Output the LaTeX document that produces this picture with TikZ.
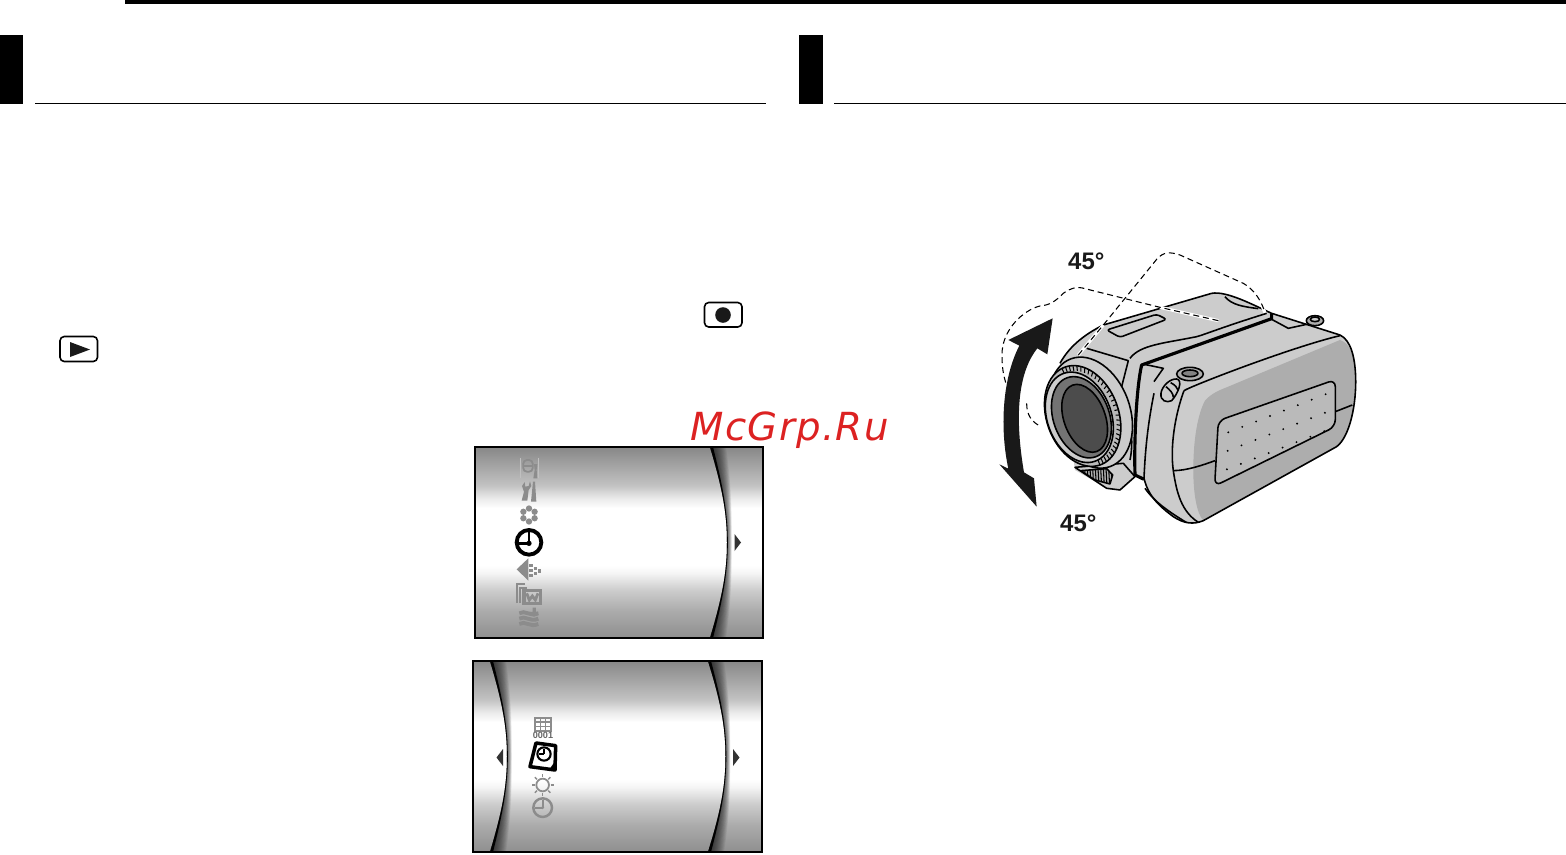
\documentclass[tikz,border=0pt]{standalone}
\usepackage{xcolor}
\usepackage{fontspec}
\usetikzlibrary{calc}
\newfontfamily\labelfont{Liberation Sans}
\newfontfamily\waterfont[LetterSpace=3.5]{DejaVu Sans}

\definecolor{camlight}{gray}{0.80}
\definecolor{camface}{gray}{0.68}
\definecolor{campanel}{gray}{0.73}
\definecolor{camglass}{gray}{0.30}
\definecolor{iconfade}{gray}{0.55}
\definecolor{waterred}{HTML}{DC2222}

% The band of a menu screen, stops are inside 25bp..75bp
\pgfdeclareverticalshading{menuband}{100bp}{%
  color(0bp)=(black!44); color(25bp)=(black!44); color(32bp)=(black!33);
  color(37.5bp)=(black!20); color(42bp)=(black!4); color(44bp)=(white);
  color(59bp)=(white); color(61.5bp)=(black!8); color(65bp)=(black!24);
  color(75bp)=(black!47); color(100bp)=(black!47)}

% Curved edge in a menu screen: x at the ends, x at the middle, y top, y bottom
\newcommand{\menucurve}[4]{%
  \foreach \d in {1,2,...,16}{%
    \fill [black,opacity=0.06] (#1,#3) .. controls ({#2-5},{#3+40}) and (#2,{#3+65}) .. (#2,{(#3+#4)/2})
      .. controls (#2,{#4-65}) and ({#2-5},{#4-40}) .. (#1,#4) -- ({#1+\d},#4)
      .. controls ({#2-5+0.6*\d},{#4-40}) and ({#2+0.3*\d},{#4-65}) .. ({#2+0.3*\d},{(#3+#4)/2})
      .. controls ({#2+0.3*\d},{#3+65}) and ({#2-5+0.6*\d},{#3+40}) .. ({#1+\d},#3) -- cycle;}%
  \fill [black] (#1,#3) .. controls ({#2-5},{#3+40}) and (#2,{#3+65}) .. (#2,{(#3+#4)/2})
      .. controls (#2,{#4-65}) and ({#2-5},{#4-40}) .. (#1,#4) -- ({#1+3},#4)
      .. controls ({#2-4},{#4-40}) and ({#2+0.8},{#4-65}) .. ({#2+0.8},{(#3+#4)/2})
      .. controls ({#2+0.8},{#3+65}) and ({#2-4},{#3+40}) .. ({#1+3},#3) -- cycle;}

\tikzset{
  darkrule/.style={fill=black},
  camline/.style={draw=black,line width=0.45pt,line join=round},
  camheavy/.style={draw=black,line width=0.9pt,line join=round},
  dashline/.style={draw=black,line width=0.3pt,dash pattern=on 1.7pt off 1.1pt},
  halo/.style={draw=white,line width=0.9pt},
  anglelabel/.style={font=\labelfont\fontsize{6.8}{8}\selectfont\bfseries,inner sep=0pt,text=black!90},
  softline/.style={draw=iconfade,line width=0.5pt},
}

\begin{document}
\begin{tikzpicture}[x=0.01cm,y=-0.01cm]
  \useasboundingbox (0,0) rectangle (1566,854);
  {\footnotesize

  % Drawing the page rules and the black tabs
  \fill [darkrule] (125,0) rectangle (1566,4);
  \fill [darkrule] (0,35) rectangle (23,104);
  \fill [darkrule] (799,35) rectangle (823,104);
  \fill [darkrule] (35,102.8) rectangle (766,104);
  \fill [darkrule] (834,102.8) rectangle (1566,104);

  % Drawing the record button
  \draw [line width=0.45pt,rounded corners=1.2pt] (704.5,302.5) rectangle (742,327);
  \fill [black!90] (723,315) circle (7.8);

  % Drawing the play button
  \draw [line width=0.45pt,rounded corners=1.2pt] (60,336.5) rectangle (97.5,361.5);
  \fill [black!90] (70,342) -- (90,349.5) -- (70,357) -- cycle;

  % Drawing the first menu screen
  \begin{scope}
    \clip (475,447) rectangle (763,638);
    \shade [shading=menuband] (475,447) rectangle (763,638);
    \menucurve{710}{727}{447}{638}
  \end{scope}
  \draw [line width=0.6pt] (475,447) rectangle (763,638);
  \fill [black!80] (734.5,534) -- (741,542.5) -- (734.5,551) -- cycle;

  % Icons of the first menu screen
  \begin{scope}[shift={(470,440)},scale=0.3333]
    % frame with a wrench
    \draw [iconfade!55,line width=0.3pt] (152,55) -- (152,115) (205,55) -- (205,115);
    \draw [softline,rounded corners=1pt] (160,60) rectangle (188,95);
    \draw [softline] (160,78) -- (188,78);
    \fill [iconfade] (192,72) -- (202,72) -- (200,90) -- (202,115) -- (190,115) -- (194,90) -- cycle;
    % wrench and driver
    \fill [iconfade] (155,182) -- (172,182) -- (176,150) -- (184,138) -- (180,124) -- (176,138) -- (166,140) -- (164,126) -- (156,138) -- (162,155) -- cycle;
    \fill [iconfade] (189,125) -- (195,125) -- (199,185) -- (183,185) -- cycle;
    % flower
    \foreach \a in {30,90,...,330}
      \fill [iconfade] ($(177,225)+(\a:19.5)$) circle (9.5);
    % clock
    \draw [line width=1.1pt] (177,307) circle (37);
    \draw [line width=0.8pt] (177,307) -- (177,275) (177,310) -- (145,310);
    \fill (177,310) circle (8);
    % arrow with dots
    \fill [iconfade] (140,388) -- (175,355) -- (175,422) -- cycle;
    \foreach \x/\y in {178/372,178/387,178/402,191/380,191/395,204/388}
      \fill [iconfade] (\x,\y) rectangle ++(10,10);
    % stacked frames
    \draw [softline] (140,490) -- (140,432) -- (165,432) (150,490) -- (150,443) -- (172,443);
    \draw [softline,line width=1pt] (162,452) rectangle (212,490);
    \draw [softline,line width=0.8pt] (170,460) -- (178,480) -- (187,468) -- (196,480) -- (204,460);
    % waves and arrow
    \foreach \y in {520,536,552}
      \draw [softline,line width=1.1pt] (148,\y) .. controls (165,{\y-12}) and (180,{\y+12}) .. (205,\y);
    \fill [iconfade] (188,503) rectangle (198,516) (178,516) -- (206,516) -- (192,531) -- cycle;
  \end{scope}

  % Drawing the second menu screen
  \begin{scope}
    \clip (473,661) rectangle (762,852);
    \shade [shading=menuband] (473,661) rectangle (762,852);
    \menucurve{490}{507}{661}{852}
    \menucurve{708}{725.5}{661}{852}
  \end{scope}
  \draw [line width=0.6pt] (473,661) rectangle (762,852);
  \fill [black!80] (733,749) -- (739.5,757.5) -- (733,766) -- cycle;
  \fill [black!80] (503,749) -- (496.5,757.5) -- (503,766) -- cycle;

  % Icons of the second menu screen
  \begin{scope}[shift={(470,655)},scale=0.3333]
    % number grid
    \draw [softline] (195,188) rectangle (242,228);
    \foreach \x in {211,226}
      \draw [softline,line width=0.35pt] (\x,188) -- (\x,228);
    \foreach \y in {201,214}
      \draw [softline,line width=0.35pt] (195,\y) -- (242,\y);
    \node (numbertag) at (219,241) [inner sep=0pt,text=black!60,font=\labelfont\bfseries\fontsize{2.6}{3}\selectfont] {0001};
    % clock on a sheet
    \draw [line width=1pt,line join=round] (198,264) -- (257,272) -- (255,345) -- (180,335) -- cycle;
    \fill (256,318) -- (256,346) -- (238,343) -- cycle;
    \draw [line width=0.6pt] (222,297) circle (20);
    \draw [line width=0.5pt] (222,297) -- (222,283) (222,297) -- (208,297);
    % sun
    \draw [softline] (218,390) circle (19);
    \foreach \a in {0,45,...,315}
      \draw [softline,line width=0.4pt] ($(218,390)+(\a:24)$) -- ($(218,390)+(\a:33)$);
    % clock
    \draw [softline,line width=0.7pt] (218,458) circle (28);
    \draw [softline] (218,458) -- (218,435) (218,458) -- (195,458);
    \fill [iconfade] (218,458) circle (5);
  \end{scope}

  % Drawing the camera
  \begin{scope}[shift={(960,230)},scale=0.3333]
    % Body outline
    \fill [camlight] (300,400) .. controls (330,345) and (380,310) .. (430,285) -- (755,190)
      .. controls (800,182) and (880,225) .. (935,250) -- (1140,315)
      .. controls (1172,330) and (1185,380) .. (1187,440) .. controls (1190,520) and (1170,620) .. (1130,650)
      -- (730,872) .. controls (700,885) and (670,880) .. (640,860) .. controls (600,830) and (565,800) .. (552,745)
      -- (525,740) -- (480,780) -- (440,775) -- (345,720) -- cycle;
    % Darker face and its speaker panel
    \fill [camface] (735,512) .. controls (755,490) and (775,482) .. (800,472) -- (1140,330)
      .. controls (1172,340) and (1185,380) .. (1187,440) .. controls (1190,520) and (1170,620) .. (1130,650)
      -- (730,872) .. controls (710,850) and (700,790) .. (700,720) .. controls (700,620) and (715,550) .. (735,512) -- cycle;
    \draw [camline,fill=campanel,rounded corners=2pt] (775,572) -- (1126,449) -- (1126,590) -- (764,768) -- cycle;
    \foreach \i in {0,...,7}
      \foreach \j in {0,1,2}
        \fill ({805+41.7*\i-2*\j},{607-16.3*\i+55.5*\j}) circle (3.2);
    % Seams on the body
    \draw [camline] (300,400) .. controls (330,345) and (380,310) .. (430,285) -- (755,190)
      .. controls (800,182) and (880,225) .. (935,250) -- (1140,315)
      .. controls (1172,330) and (1185,380) .. (1187,440) .. controls (1190,520) and (1170,620) .. (1130,650)
      -- (730,872) .. controls (700,885) and (670,880) .. (640,860) .. controls (600,830) and (565,800) .. (552,745);
    \draw [camline] (672,482) .. controls (645,555) and (630,650) .. (640,722) .. controls (650,790) and (665,845) .. (715,877);
    \draw [camline] (672,482) .. controls (700,465) and (1000,350) .. (1140,317);
    \draw [camline] (640,722) .. controls (680,722) and (730,705) .. (765,692) (1126,545) -- (1177,525);
    \draw [camline] (555,775) .. controls (580,810) and (610,835) .. (680,878);
    \draw [camline] (548,402) -- (610,415) -- (582,455) (582,490) .. controls (560,600) and (555,680) .. (552,745);
    % Heavy edge of the folding screen
    \draw [camheavy] (525,735) .. controls (522,620) and (530,470) .. (545,405) -- (935,266) -- (935,250);
    \draw [camheavy] (525,735) -- (552,748);
    % Details of the top
    \draw [camline,rounded corners=0.8pt] (440,300) -- (590,253) -- (620,268) -- (480,322) -- cycle;
    \draw [camline] (510,385) .. controls (540,345) and (610,340) .. (700,322) .. controls (720,320) and (760,300) .. (920,250);
    \draw [camline] (380,355) -- (505,392) -- (485,470) .. controls (505,540) and (525,620) .. (510,690);
    \draw [camline] (795,200) .. controls (815,225) and (850,230) .. (895,236);
    \draw [camline] (935,268) -- (985,295) -- (1040,283);
    % Socket and dial on the side
    \draw [camline,fill=camface] (690,432) ellipse (40 and 20);
    \draw [camline,fill=camglass!70] (690,430) ellipse (24 and 10);
    \draw [camline,fill=camlight] (603,490) .. controls (605,470) and (630,445) .. (650,447)
      .. controls (670,450) and (655,490) .. (635,512) .. controls (620,520) and (600,512) .. (603,490) -- cycle;
    \draw [camline] (618,470) .. controls (630,480) and (640,490) .. (640,502) (632,458) .. controls (645,465) and (652,472) .. (655,482);
    % Lug at the back
    \draw [camline,fill=camface] (1065,272) ellipse (26 and 15);
    \draw [camline,fill=camlight] (1065,268) ellipse (14 and 7);
    % Thumb wheel under the lens
    \draw [camline,fill=camlight] (345,712) -- (440,775) -- (480,780) -- (525,740) -- (490,700) -- cycle;
    \begin{scope}
      \clip (362,722) -- (440,716) -- (458,735) -- (450,762) -- (405,750) -- cycle;
      \fill [camface] (362,710) rectangle (460,765);
      \foreach \x in {366,374,...,458}
        \draw [line width=0.3pt] (\x,712) -- ({\x+3},770);
    \end{scope}
    \draw [camline] (362,722) -- (440,716) -- (458,735) -- (450,762) -- (405,750) -- cycle;
    % Lens barrel, ring and glass
    \begin{scope}[shift={(392,548)},rotate=20]
      \draw [camline,fill=camlight] (0,0) ellipse (118 and 172);
    \end{scope}
    \begin{scope}[shift={(368,558)},rotate=20]
      \draw [camline,fill=campanel] (0,0) ellipse (108 and 156);
      \foreach \a in {-95,-89,...,95}
        \draw [line width=0.3pt] ({96*cos(\a)},{140*sin(\a)}) -- ({108*cos(\a)},{156*sin(\a)});
    \end{scope}
    \begin{scope}[shift={(358,562)},rotate=20]
      \draw [camline,fill=camlight] (0,0) ellipse (96 and 140);
      \draw [camline,fill=black!55] (6,2) ellipse (84 and 126);
    \end{scope}
    \begin{scope}[shift={(374,565)},rotate=20]
      \draw [camline,fill=camglass] (0,0) ellipse (62 and 106);
    \end{scope}

    % Drawing the tilt arrow
    \fill [black!90] (278,265) -- (262,373) -- (232,355) .. controls (180,420) and (160,540) .. (192,727)
      -- (222,745) -- (230,830) -- (118,703) -- (145,716) .. controls (120,600) and (125,450) .. (178,347)
      -- (145,330) -- cycle;

    % Drawing the dashed outlines of the tilted camera
    \draw [halo] (775,272) -- (600,232);
    \draw [halo] (355,375) -- (430,285);
    \draw [halo] (905,225) -- (915,248);
    \draw [dashline] (775,272) -- (600,232) -- (375,176) .. controls (350,168) and (330,175) .. (310,190)
      .. controls (285,215) and (270,225) .. (240,228) .. controls (190,240) and (125,300) .. (126,375)
      .. controls (126,410) and (130,440) .. (140,465);
    \draw [dashline] (200,520) .. controls (200,555) and (215,575) .. (238,587);
    \draw [dashline] (355,375) -- (430,285) -- (590,88) .. controls (610,65) and (630,65) .. (660,75)
      -- (850,160) .. controls (885,180) and (905,215) .. (915,248);

    % Marking the two angles
    \node (angleup) at (379,95) [anglelabel] {45°};
    \node (angledown) at (355,880) [anglelabel] {45°};
  \end{scope}

  % Marking the mark across the page
  \node (watermark) at (789.5,430) [inner sep=0pt,text=waterred,font=\waterfont\itshape\fontsize{11}{13}\selectfont] {McGrp.Ru};
  }
\end{tikzpicture}
\end{document}
